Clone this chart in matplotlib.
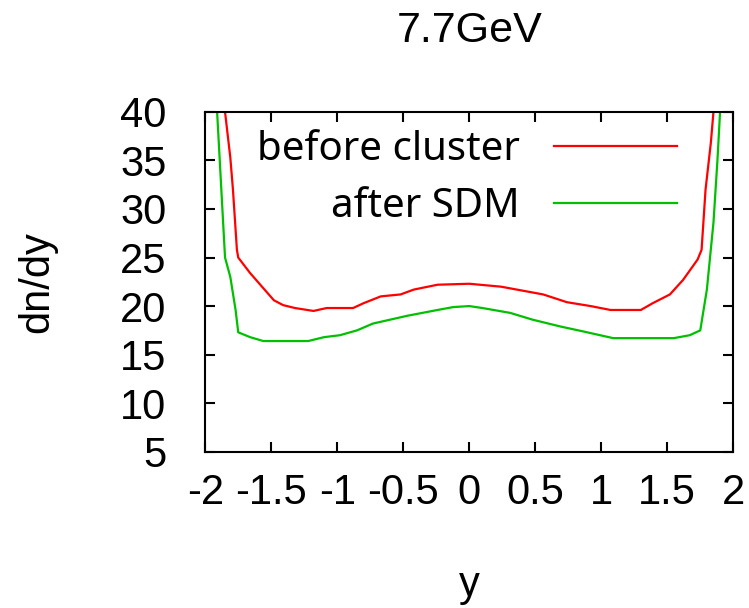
import matplotlib
matplotlib.use('Agg')
import matplotlib.pyplot as plt

# dn/dy vs y at 7.7GeV
red_x = [-1.87, -1.85, -1.81, -1.79, -1.76, -1.75, -1.66, -1.48, -1.41, -1.32, -1.18,
         -1.08, -0.88, -0.80, -0.67, -0.52, -0.42, -0.24, 0.0, 0.24, 0.36, 0.56, 0.74,
         0.92, 1.07, 1.30, 1.39, 1.52, 1.62, 1.73, 1.76, 1.79, 1.83, 1.85, 1.87]
red_y = [43, 40, 35.3, 32, 25.8, 25, 23.4, 20.6, 20.1, 19.8, 19.5,
         19.8, 19.8, 20.3, 21.0, 21.2, 21.7, 22.2, 22.3, 22.0, 21.7, 21.2, 20.4,
         20.0, 19.6, 19.6, 20.3, 21.2, 22.7, 24.8, 25.8, 32, 36.8, 40, 43]

green_x = [-1.92, -1.91, -1.89, -1.87, -1.85, -1.81, -1.77, -1.75, -1.66, -1.56, -1.22,
           -1.10, -0.98, -0.85, -0.73, -0.47, -0.24, -0.12, 0.0, 0.10, 0.31, 0.48,
           0.69, 0.86, 1.09, 1.55, 1.67, 1.75, 1.80, 1.85, 1.88, 1.90, 1.91]
green_y = [43, 40, 35, 30, 25, 23, 19.6, 17.3, 16.8, 16.4, 16.4,
           16.8, 17.0, 17.5, 18.2, 19.0, 19.6, 19.9, 20.0, 19.8, 19.3, 18.6,
           17.9, 17.4, 16.7, 16.7, 17.0, 17.5, 21.7, 28.6, 35, 40, 43]

xticks = [-2, -1.5, -1, -0.5, 0, 0.5, 1, 1.5, 2]
xticklabels = ['-2', '-1.5', '-1', '-0.5', '0', '0.5', '1', '1.5', '2']
yticks = [5, 10, 15, 20, 25, 30, 35, 40]

plt.rcParams['font.family'] = 'Liberation Sans'

fig = plt.figure(figsize=(7.49, 6.08), dpi=100)
ax = fig.add_axes([0.274, 0.257, 0.705, 0.559])

ax.plot(red_x, red_y, color='#ff0000', linewidth=1.6, label='before cluster')
ax.plot(green_x, green_y, color='#00c000', linewidth=1.6, label='after SDM')

ax.set_xlim(-2, 2)
ax.set_ylim(5, 40)
ax.set_xticks(xticks)
ax.set_xticklabels(xticklabels)
ax.set_yticks(yticks)
ax.tick_params(direction='in', length=7, width=1.5, top=True, right=True,
               labelsize=30)
ax.tick_params(axis='y', pad=28)
ax.tick_params(axis='x', pad=15)
for s in ax.spines.values():
    s.set_linewidth(1.5)

ax.set_xlabel('y', fontsize=30, labelpad=38)
ax.set_ylabel('dn/dy', fontsize=30, labelpad=45)
ax.set_title('7.7GeV', fontsize=31, pad=50)

leg = ax.legend(loc='upper right', bbox_to_anchor=(0.909, 0.97), frameon=False,
                markerfirst=False, handlelength=3.05, handletextpad=0.85,
                labelspacing=0.42, borderaxespad=0, borderpad=0.2,
                prop={'family': 'Noto Sans', 'size': 29})

fig.savefig('out.png', dpi=100)
